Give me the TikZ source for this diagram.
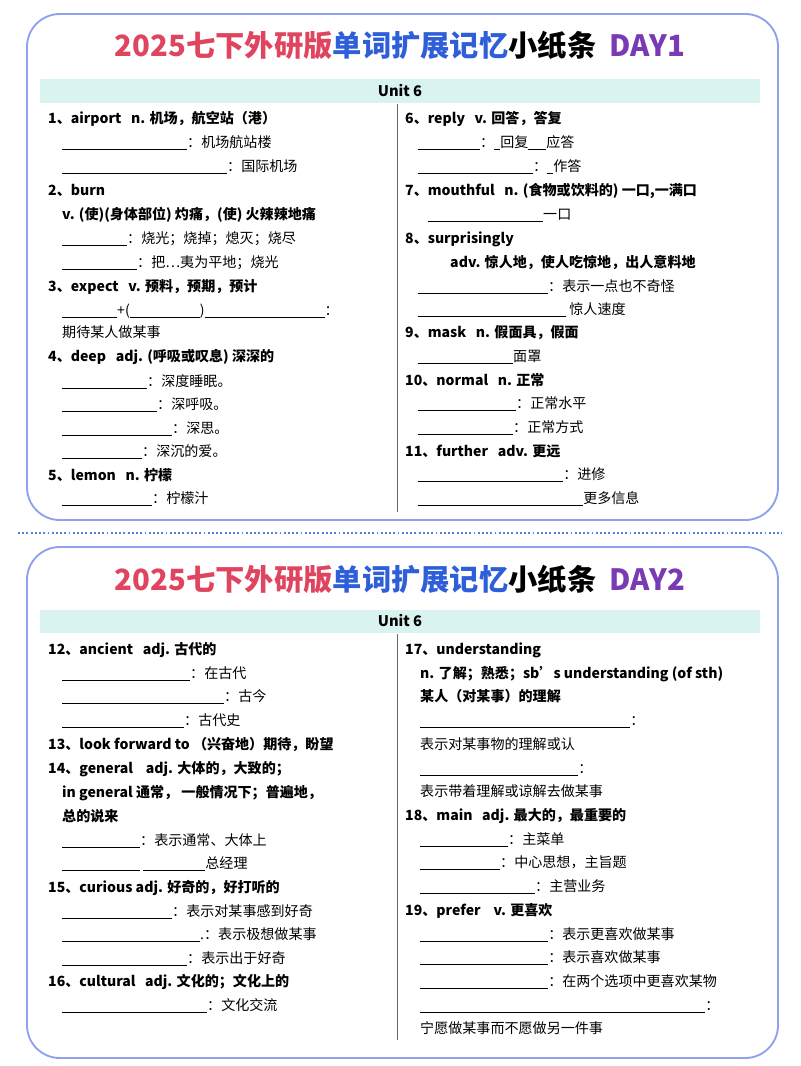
\documentclass[tikz,border=0pt]{standalone}
\usepackage{fontspec}
\setmainfont{Noto Sans CJK SC}
\usepackage{tikz}
\definecolor{ttlred}{HTML}{E04560}
\definecolor{ttlblue}{HTML}{2F5FD8}
\definecolor{ttlpurple}{HTML}{7A3AB4}
\definecolor{frame}{HTML}{8EA2EC}
\definecolor{unitbar}{HTML}{D8F3F0}
\newlength\pxu \setlength\pxu{0.8536pt}
\newcommand\bl[1]{\rule[-2pt]{#1\pxu}{0.5pt}}
\tikzset{
  txt/.style={anchor=base west, inner sep=0pt, font=\fontsize{12}{14}\selectfont},
  hd/.style={txt, font=\fontsize{12}{14}\selectfont\bfseries},
  ttl/.style={anchor=base, inner sep=0pt, font=\fontsize{25}{28}\selectfont\bfseries},
  panel/.style={draw=frame, line width=1.6pt, rounded corners=28pt},
  bar/.style={fill=unitbar, draw=none, minimum width=720\pxu, minimum height=23\pxu,
    font=\fontsize{12.5}{14}\selectfont\bfseries}
}
\begin{document}
\begin{tikzpicture}[x=0.03cm,y=-0.03cm]
\useasboundingbox (0,0) rectangle (800,1066);
% DAY1 panel
\draw[panel] (27,14) rectangle (778,520);
\node[ttl] (title1) at (400,57) {\textcolor{ttlred}{2025七下外研版}\textcolor{ttlblue}{单词扩展记忆}小纸条\ \ \textcolor{ttlpurple}{DAY1}};
\node[bar] (unit1) at (400,91) {Unit 6};
\draw[black!60] (397,104) -- (397,512);
\node[hd] (w1) at (48,123) {1、airport\ \ \ n. 机场，航空站（港）};
\node[txt] (w1a) at (62,147) {\bl{125}：机场航站楼};
\node[txt] (w1b) at (62,171) {\bl{165}：国际机场};
\node[hd] (w2) at (48,195) {2、burn};
\node[hd] (w2d) at (62,219) {v. (使)(身体部位) 灼痛，(使) 火辣辣地痛};
\node[txt] (w2a) at (62,243) {\bl{65}：烧光；烧掉；熄灭；烧尽};
\node[txt] (w2b) at (62,267) {\bl{75}：把…夷为平地；烧光};
\node[hd] (w3) at (48,291) {3、expect\ \ \ v. 预料，预期，预计};
\node[txt] (w3a) at (62,315) {\bl{55}+(\bl{70})\bl{120}：};
\node[txt] (w3b) at (62,337) {期待某人做某事};
\node[hd] (w4) at (48,361) {4、deep\ \ \ adj. (呼吸或叹息) 深深的};
\node[txt] (w4a) at (62,386) {\bl{85}：深度睡眠。};
\node[txt] (w4b) at (62,409) {\bl{95}：深呼吸。};
\node[txt] (w4c) at (62,433) {\bl{110}：深思。};
\node[txt] (w4d) at (62,456) {\bl{80}：深沉的爱。};
\node[hd] (w5) at (48,480) {5、lemon\ \ \ n. 柠檬};
\node[txt] (w5a) at (62,503) {\bl{90}：柠檬汁};
\node[hd] (w6) at (405,123) {6、reply\ \ \ v. 回答，答复};
\node[txt] (w6a) at (418,147) {\bl{62}：\bl{6}回复\bl{18}应答};
\node[txt] (w6b) at (418,171) {\bl{115}：\bl{6}作答};
\node[hd] (w7) at (405,195) {7、mouthful\ \ \ n. (食物或饮料的) 一口,一满口};
\node[txt] (w7a) at (428,219) {\bl{115}一口};
\node[hd] (w8) at (405,243) {8、surprisingly};
\node[hd] (w8d) at (450,267) {adv. 惊人地，使人吃惊地，出人意料地};
\node[txt] (w8a) at (418,291) {\bl{130}：表示一点也不奇怪};
\node[txt] (w8b) at (418,314) {\bl{148}\ 惊人速度};
\node[hd] (w9) at (405,337) {9、mask\ \ \ n. 假面具，假面};
\node[txt] (w9a) at (418,361) {\bl{95}面罩};
\node[hd] (w10) at (405,385) {10、normal\ \ \ n. 正常};
\node[txt] (w10a) at (418,408) {\bl{98}：正常水平};
\node[txt] (w10b) at (418,432) {\bl{95}：正常方式};
\node[hd] (w11) at (405,456) {11、further\ \ \ adv. 更远};
\node[txt] (w11a) at (418,479) {\bl{145}：进修};
\node[txt] (w11b) at (418,503) {\bl{165}更多信息};
% separator
\draw[ttlblue!80, line width=1.6pt, dotted] (18,533) -- (782,533);
% DAY2 panel
\draw[panel] (27,547) rectangle (778,1058);
\node[ttl] (title2) at (400,590) {\textcolor{ttlred}{2025七下外研版}\textcolor{ttlblue}{单词扩展记忆}小纸条\ \ \textcolor{ttlpurple}{DAY2}};
\node[bar] (unit2) at (400,621) {Unit 6};
\draw[black!60] (397,634) -- (397,1040);
\node[hd] (w12) at (48,654) {12、ancient\ \ \ adj. 古代的};
\node[txt] (w12a) at (62,678) {\bl{128}：在古代};
\node[txt] (w12b) at (62,701) {\bl{162}：古今};
\node[txt] (w12c) at (62,725) {\bl{122}：古代史};
\node[hd] (w13) at (48,749) {13、look forward to （兴奋地）期待，盼望};
\node[hd] (w14) at (48,773) {14、general\ \ \ \ adj. 大体的，大致的；};
\node[hd] (w14d) at (62,797) {in general 通常，\ 一般情况下；普遍地，};
\node[hd] (w14e) at (62,821) {总的说来};
\node[txt] (w14a) at (62,845) {\bl{78}：表示通常、大体上};
\node[txt] (w14b) at (62,868) {\bl{78}\ \bl{62}总经理};
\node[hd] (w15) at (48,892) {15、curious adj. 好奇的，好打听的};
\node[txt] (w15a) at (62,916) {\bl{110}：表示对某事感到好奇};
\node[txt] (w15b) at (62,939) {\bl{138}.：表示极想做某事};
\node[txt] (w15c) at (62,963) {\bl{125}：表示出于好奇};
\node[hd] (w16) at (48,986) {16、cultural\ \ \ adj. 文化的；文化上的};
\node[txt] (w16a) at (62,1010) {\bl{145}：文化交流};
\node[hd] (w17) at (405,654) {17、understanding};
\node[hd] (w17d) at (420,678) {n. 了解；熟悉；sb's understanding (of sth)};
\node[hd] (w17e) at (420,701) {某人（对某事）的理解};
\node[txt] (w17a) at (420,725) {\bl{210}：};
\node[txt] (w17b) at (420,749) {表示对某事物的理解或认};
\node[txt] (w17c) at (420,773) {\bl{158}：};
\node[txt] (w17f) at (420,796) {表示带着理解或谅解去做某事};
\node[hd] (w18) at (405,820) {18、main\ \ \ adj. 最大的，最重要的};
\node[txt] (w18a) at (420,844) {\bl{88}：主菜单};
\node[txt] (w18b) at (420,867) {\bl{80}：中心思想，主旨题};
\node[txt] (w18c) at (420,891) {\bl{115}：主营业务};
\node[hd] (w19) at (405,915) {19、prefer\ \ \ \ v. 更喜欢};
\node[txt] (w19a) at (420,939) {\bl{128}：表示更喜欢做某事};
\node[txt] (w19b) at (420,962) {\bl{128}：表示喜欢做某事};
\node[txt] (w19c) at (420,986) {\bl{128}：在两个选项中更喜欢某物};
\node[txt] (w19d) at (420,1010) {\bl{285}：};
\node[txt] (w19e) at (420,1033) {宁愿做某事而不愿做另一件事};
\end{tikzpicture}
\end{document}
